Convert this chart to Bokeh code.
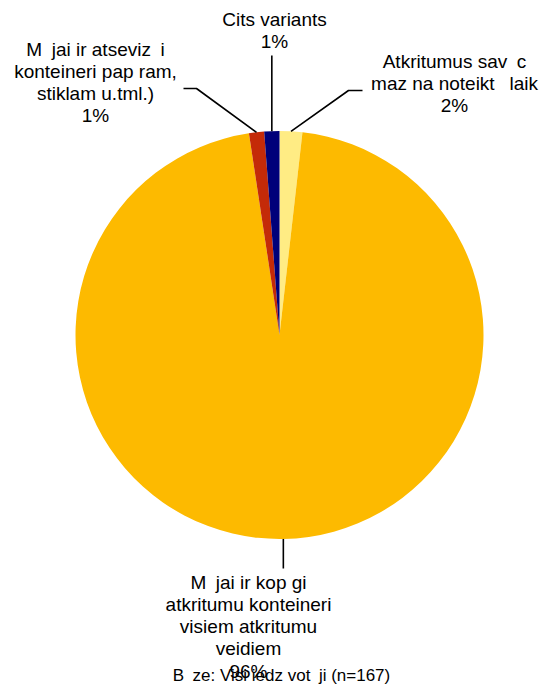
import math
from bokeh.plotting import figure
from bokeh.models import Range1d, ColumnDataSource
from bokeh.embed import file_html
from bokeh.resources import INLINE
from bokeh.core.properties import value

# ---- data (clockwise from 12 o'clock) ----
categories = [
    "Atkritumus sav\u2002c\nmaz na noteikt\u2002 laik",
    "M\u2002jai ir kop gi\natkritumu konteineri\nvisiem atkritumu\nveidiem",
    "M\u2002jai ir atseviz\u2002i\nkonteineri pap ram,\nstiklam u.tml.)",
    "Cits variants",
]
counts = [3, 160, 2, 2]
n_total = 167
footer_text = "B\u2002ze: Visi iedz vot\u2002ji (n=167)"

# ---- styles / layout ----
colors = ["#FFEC84", "#FDBA00", "#C42A08", "#00007A"]
W, H = 544, 687
CX, CY_IMG, R = 279, 334.5, 204
label_x = [454, 248, 95, 274]
label_top = [50.5, 571, 38.5, 8.5]
label_lh = [1.05, 1.06, 1.05, 1.05]
FONT = "Liberation Sans"
FS = 19


def Y(img_y):
    return H - img_y


CY = Y(CY_IMG)

total = sum(counts)
fracs = [c / total for c in counts]
starts, ends, mids = [], [], []
cum = 0.0
for f in fracs:
    a, b = cum, cum + f
    starts.append(math.radians(90 - b * 360))
    ends.append(math.radians(90 - a * 360))
    mids.append((a + b) / 2)
    cum = b
pct = [f"{round(c / n_total * 100)}%" for c in counts]
texts = [f"{c}\n{p}" for c, p in zip(categories, pct)]

p = figure(width=W, height=H, x_range=Range1d(0, W), y_range=Range1d(0, H),
           output_backend="svg", toolbar_location=None, min_border=0)
p.axis.visible = False
p.grid.visible = False
p.outline_line_color = None
p.background_fill_color = "white"

src = ColumnDataSource(dict(start=starts, end=ends, color=colors))
p.wedge(x=CX, y=CY, radius=R, start_angle="start", end_angle="end",
        fill_color="color", line_color=None, source=src)


def edge_pt(m, rr=R):
    ang = m * 2 * math.pi
    return CX + rr * math.sin(ang), CY + rr * math.cos(ang)


# leader lines
lw = 1.6
# 0: Atkritumus (right)
ex, ey = edge_pt(mids[0])
p.line([362, 348, ex], [Y(90), Y(90), ey], line_color="black", line_width=lw)
# 1: big slice (bottom)
ex, ey = edge_pt(mids[1])
p.line([ex, ex], [ey, Y(568)], line_color="black", line_width=lw)
# 2: atsevizki (left)
ex, ey = edge_pt(mids[2])
p.line([183, 196, ex], [Y(88), Y(88), ey], line_color="black", line_width=lw)
# 3: Cits (top)
ex, ey = edge_pt(mids[3])
p.line([ex, ex], [Y(55), ey], line_color="black", line_width=lw)

for i in range(len(texts)):
    p.text(x=[label_x[i]], y=[Y(label_top[i])], text=[texts[i]],
           text_font=value(FONT), text_font_size=f"{FS}px", text_color="black",
           text_align="center", text_baseline="top", text_line_height=label_lh[i])

p.text(x=[281], y=[Y(675)], text=[footer_text],
       text_font=value(FONT), text_font_size="17px", text_color="black",
       text_align="center", text_baseline="middle")

open("out.html", "w").write(file_html(p, INLINE))
